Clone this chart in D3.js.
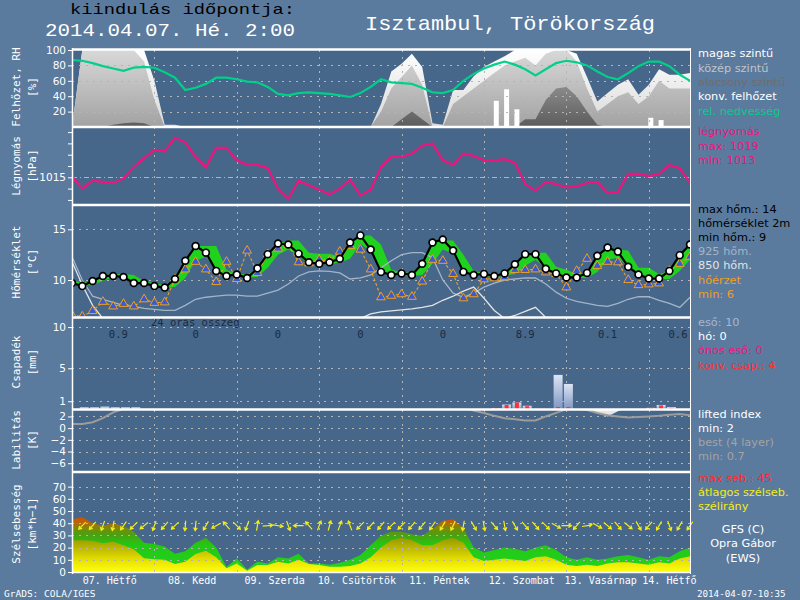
<!DOCTYPE html>
<html><head><meta charset="utf-8">
<script src="https://cdn.jsdelivr.net/npm/d3@7/dist/d3.min.js"></script>
<style>
html,body{margin:0;padding:0;background:#5a7a9e;}
svg{display:block;}
</style></head><body>
<svg id="chart" width="800" height="600"></svg>
<script>
// ---------------- DATA ----------------
const hours = d3.range(0, 181, 3); // 3-hourly forecast steps, 0..180 h
const rh = [87,86,83,79,76,73,77,78,77,71, 64,48,51,56,64,64,62,59,58,52, 43,41,44,45,44,43,41,39,44,52, 62,58,57,56,51,45,44,48,60,69, 76,81,85,81,75,67,75,83,86,84, 80,72,65,62,70,79,85,85,79,68, 60];
const cloudHigh = [0,100,100,100,100,100,100,100,60,3, 3,0,0,0,0,0,0,0,0,0, 0,0,0,0,0,0,0,0,0,0, 30,72,82,95,78,5,3,48,48,66, 78,85,92,100,100,100,100,100,100,95, 65,33,44,55,62,42,55,75,68,68, 70];
const cloudMid = [0,100,100,100,100,100,100,85,35,0, 0,0,0,0,0,0,0,0,0,0, 0,0,0,0,0,0,0,0,0,0, 20,50,65,80,55,0,0,30,40,50, 60,70,80,85,90,80,95,100,100,85, 50,20,30,40,45,30,40,60,50,50, 50];
const cloudLow = [0,0,0,0,3,5,6,5,0,0, 0,0,0,0,0,0,0,0,0,0, 0,0,0,0,0,0,0,0,0,0, 0,0,10,20,10,0,0,0,0,0, 0,0,0,0,10,10,35,50,52,40, 20,3,0,0,0,0,0,0,0,0, 0];
const cloudConv = [0,0,0,0,0,0,0,0,0,0, 0,0,0,0,0,0,0,0,0,0, 0,0,0,0,0,0,0,0,0,0, 0,0,0,0,0,0,0,0,0,0, 0,34,49,23,0,0,0,0,0,0, 0,0,0,0,0,0,12,9,0,0, 0];
const pressure = [1015.1,1014.0,1014.7,1014.6,1014.5,1014.9,1015.9,1016.7,1017.4,1017.3, 1018.5,1018.1,1016.8,1015.9,1017.6,1017.6,1016.5,1016.1,1016.1,1015.8, 1014.0,1013.1,1014.7,1014.3,1013.9,1013.5,1014.0,1014.8,1013.4,1013.9, 1015.9,1016.8,1016.8,1017.1,1017.8,1018.0,1016.5,1016.1,1017.1,1016.9, 1016.5,1016.5,1016.6,1016.3,1014.4,1013.8,1014.6,1014.4,1014.1,1014.2, 1014.5,1014.6,1013.6,1013.7,1015.3,1015.3,1015.1,1015.3,1016.1,1015.8, 1014.5];
const temp2m = [9.7,9.4,9.9,10.4,10.4,10.3,9.7,9.7,9.4,9.25, 10.1,11.9,13.35,12.7,10.9,10.4,10.55,10.2,11.15,12.55, 13.6,13.5,12.6,11.75,11.6,11.75,12.1,13.7,14.4,13.0, 10.8,10.5,10.65,10.5,11.6,13.7,14.0,12.9,10.8,10.5, 10.6,10.4,10.65,11.55,12.55,12.55,11.1,10.65,10.25,10.25, 10.7,12.4,13.2,12.8,11.3,10.55,10.15,10.15,10.9,12.45, 13.5];
const tempMaxBand = [9.9,9.8,9.9,10.5,10.6,10.6,10.5,9.9,9.7,9.5, 10.1,11.9,13.35,13.35,13.35,11.0,10.6,10.55,11.15,12.55, 13.6,13.9,13.9,12.7,12.6,12.6,12.3,13.7,14.4,14.4, 13.5,11.0,10.8,10.7,11.6,13.7,13.9,13.9,12.5,10.9, 10.7,10.6,10.7,11.55,12.55,12.7,12.7,11.3,11.0,10.6, 10.7,12.4,13.2,13.0,12.9,11.2,11.2,10.6,10.9,12.45, 13.6];
const tempMinBand = [9.5,9.4,9.5,9.9,10.3,10.3,9.8,9.7,9.4,9.2, 9.3,10.2,11.9,12.3,11.0,10.4,10.4,10.2,10.3,11.2, 12.5,13.0,12.4,11.6,11.6,11.6,11.7,12.1,13.6,12.8, 11.0,10.5,10.4,10.4,10.5,11.6,13.0,12.6,10.8,10.5, 10.4,10.3,10.4,10.6,11.4,12.0,11.1,10.6,10.2,10.2, 10.2,10.8,12.0,12.2,11.3,10.5,10.1,10.1,10.1,10.9, 12.0];
const feelsLike = [6.55,6.4,6.95,7.85,7.4,7.65,7.4,8.1,7.75,7.8, 10.07,11.05,11.8,11.05,9.8,11.8,10.1,12.9,10.7,12.55, 13.1,13.45,11.75,11.65,12.0,11.9,12.8,13.35,13.0,11.05, 8.3,8.45,8.6,8.35,9.85,12.0,11.9,10.6,8.2,8.6, 10.07,10.17,10.27,11.0,11.0,11.05,10.75,10.6,9.28,10.9, 12.1,11.4,11.8,11.75,10.0,9.5,9.57,9.67,10.9,11.6, 12.3];
const temp925 = [12.3,10.0,8.4,8.1,7.8,7.5,7.4,7.2,7.1,7.0, 7.0,7.5,8.1,8.3,8.4,8.5,8.5,8.4,8.4,8.7, 9.0,9.6,10.4,10.8,10.9,10.85,10.7,10.1,10.2,10.5, 11.2,11.9,12.5,12.7,12.7,12.2,10.0,8.7,8.3,8.7, 9.3,9.7,10.0,10.1,10.2,10.2,9.6,8.8,8.2,7.9, 7.7,7.5,7.4,7.7,8.1,8.35,8.35,8.0,7.7,7.3, 8.3];
const temp850 = [11.8,9.5,7.5,6.2,5.5,5.0,5.0,5.0,5.0,5.0, 5.0,5.0,5.0,5.0,5.0,5.0,5.0,5.0,5.0,5.0, 5.0,5.0,5.0,5.0,5.0,5.0,5.0,5.0,6.2,6.65, 6.85,6.95,7.05,7.15,7.3,7.5,8.0,8.4,8.9,9.3, 8.2,7.0,6.2,6.5,6.9,7.3,6.3,5.5,5.0,5.0, 5.0,5.0,5.0,5.0,5.0,5.0,5.0,5.0,5.0,5.0, 5.0];
const precipTotal = [0,0.27,0.27,0.35,0.27,0.27,0.27,0,0,0, 0,0,0,0,0,0,0,0,0,0, 0,0,0,0,0,0,0,0,0,0, 0,0,0,0,0,0,0,0,0,0, 0,0.15,0.6,0.85,0.45,0,0,4.2,3.1,0, 0,0,0,0,0,0,0.2,0.55,0.3,0, 0];
const precipConv = [0,0,0,0,0,0,0,0,0,0, 0,0,0,0,0,0,0,0,0,0, 0,0,0,0,0,0,0,0,0,0, 0,0,0,0,0,0,0,0,0,0, 0,0.15,0.55,0.85,0.4,0,0,0.3,0.3,0, 0,0,0,0,0,0,0.2,0.5,0.2,0, 0];
const dailySumText = ["0.9","0","0","0","0","8.9","0.1","0.6"];
const dailySumHours = [13.5, 36, 60, 84, 108, 132, 156, 176.5];
const liBest = [0.7,0.7,1.0,1.7,2.7,3.3,4,4.5,5,5, 5,5,5,5,5,5,5,5,5,5, 5,5,5,5,5,5,5,5,5,5, 5,5,5,5,5,5,5,4,3.5,3.0, 2.6,2.1,1.7,1.5,1.3,1.3,2.0,2.6,3.2,3.3, 3.1,2.6,2.2,2.0,1.8,1.9,2.0,2.1,2.3,2.4, 2.2];
const liSurface = [5,5,5,5,5,5,5,5,5,5, 5,5,5,5,5,5,5,5,5,5, 5,5,5,5,5,5,5,5,5,5, 5,5,5,5,5,5,5,5,5,5, 5,5,5,5,5,5,5,5,5,4, 3.2,2.6,2.0,2.9,3.5,5,5,5,5,5, 5];
const windMax = [43,45,40,38,40,37.7,33,24,23,21, 15,17,24,28,20,4,11,2,8.5,7, 12,11,15,7,7,6,7.6,10,14,22, 30,33,33,31,30,35,42,43,36,20, 16,18,20,19,17,20,22,18,12,10, 12,10,11,13,14,12,10,13,12,17, 20];
const windAvg = [26,26,25.6,23.5,24.8,22,18.6,11.2,10.4,10, 6.6,8.5,14.8,17.5,12,3,7,1,5.7,5.7, 8.5,7,10,6.6,5.7,4.3,4.3,5,7,12, 20,26,28,26,22,22,26,28,24,12, 9,10,11,10,9,12,13,10,6,5, 6,5,7,8,8,7,6,8,7,11, 13];
const windDir = [null,45,40,20,10,35,45,50,20,40, 45,5,5,30,60,140,315,20,190,265, 280,340,90,140,200,195,200,160,45,40, 40,45,45,40,40,35,30,25,10,330, 350,320,350,330,320,320,315,300,270,40, 260,300,310,320,310,330,40,30,340,30, 35];
const dayLabels = ["07. Hétfő","08. Kedd","09. Szerda","10. Csütörtök","11. Péntek","12. Szombat","13. Vasárnap","14. Hétfő"];
const dayLabelHours = [11, 35, 59, 83, 107, 131, 154, 174];
const dayBoundaryHours = [24, 48, 72, 96, 120, 144, 168];
const cloudTicks = [20, 40, 60, 80, 100];
const pressureTicks = [1013, 1014, 1015, 1016, 1017, 1018, 1019];
const tempTicks = [10, 15];
const precipTicks = [1, 5, 10];
const liTicks = [2, 0, -2, -4, -6];
const windTicks = [0, 10, 20, 30, 40, 50, 60, 70];

// ---------------- DRAW ----------------
const SANS = "'DejaVu Sans', sans-serif";
const MONO = "'DejaVu Sans Mono', monospace";
const SERIF = "'Liberation Mono', 'Courier New', monospace";
const svg = d3.select("#chart");
const defs = svg.append("defs");
const X0 = 72, X1 = 690;
const x = d3.scaleLinear().domain([0, 180]).range([X0, X1]);

const yCloud = d3.scaleLinear().domain([0, 100]).range([127, 50]);
const yPres = d3.scaleLinear().domain([1012.55, 1019.45]).range([205, 127]);
const yTemp = d3.scaleLinear().domain([6.35, 17.4]).range([317, 205]);
const yPrec = d3.scaleLinear().domain([0, 11.1]).range([409.5, 318]);
const yLI = d3.scaleLinear().domain([-7.5, 3.1]).range([472, 410]);
const yWind = d3.scaleLinear().domain([0, 82]).range([572, 472]);

svg.append("rect").attr("width", 800).attr("height", 600).attr("fill", "#5a7a9e");
svg.append("rect").attr("x", X0).attr("y", 49).attr("width", X1 - X0).attr("height", 524).attr("fill", "#46668a");

function clip(id, top, bottom) {
  defs.append("clipPath").attr("id", id).append("rect")
    .attr("x", X0).attr("y", top).attr("width", X1 - X0).attr("height", bottom - top);
  return svg.append("g").attr("clip-path", `url(#${id})`);
}
function vgrad(id, stops) {
  const g = defs.append("linearGradient").attr("id", id).attr("x1", 0).attr("y1", 0).attr("x2", 0).attr("y2", 1);
  stops.forEach(s => g.append("stop").attr("offset", s[0]).attr("stop-color", s[1]));
}
function ugrad(id, y1, y2, stops) {
  const g = defs.append("linearGradient").attr("id", id).attr("gradientUnits", "userSpaceOnUse")
    .attr("x1", 0).attr("y1", y1).attr("x2", 0).attr("y2", y2);
  stops.forEach(s => g.append("stop").attr("offset", s[0]).attr("stop-color", s[1]));
}
vgrad("gHigh", [[0, "#ffffff"], [1, "#d8d8d8"]]);
vgrad("gMid", [[0, "#d8d8d8"], [1, "#a2a2a2"]]);
vgrad("gLow", [[0, "#8a8a8a"], [1, "#5c5c5c"]]);
vgrad("gBar", [[0, "#dde4f4"], [1, "#7e96c2"]]);
ugrad("gWindMax", 572, 472, [[0, "#22d422"], [0.27, "#22c814"], [0.37, "#4aa012"], [0.44, "#7a8a08"], [0.49, "#b86808"], [0.56, "#d04a00"]]);
ugrad("gWindAvg", 572, 472, [[0, "#ffff10"], [0.12, "#e6e000"], [0.25, "#b8b400"], [0.34, "#989a00"]]);

const gridStyle = sel => sel.attr("stroke", "#b4b4b4").attr("stroke-width", 1).attr("stroke-dasharray", "2,5");
function hgrid(g, scale, vals, dash) {
  vals.forEach(v => g.append("line").attr("x1", X0).attr("x2", X1)
    .attr("y1", Math.round(scale(v)) + 0.5).attr("y2", Math.round(scale(v)) + 0.5)
    .call(gridStyle).attr("stroke-dasharray", dash || "2,5"));
}
function vgrid(g, top, bottom) {
  dayBoundaryHours.forEach(h => g.append("line").attr("x1", Math.round(x(h)) + 0.5).attr("x2", Math.round(x(h)) + 0.5)
    .attr("y1", top).attr("y2", bottom).call(gridStyle));
}

// ---- Cloud / RH panel ----
const gC = clip("cpCloud", 50, 127);
const cloudArea = vals => d3.area().x((d, i) => x(hours[i])).y0(yCloud(0)).y1(d => yCloud(d))(vals);
gC.append("path").attr("d", cloudArea(cloudHigh)).attr("fill", "url(#gHigh)");
gC.append("path").attr("d", cloudArea(cloudMid)).attr("fill", "url(#gMid)");
gC.append("path").attr("d", cloudArea(cloudLow)).attr("fill", "url(#gLow)");
gC.selectAll("rect.conv").data(cloudConv.map((v, i) => ({v, h: hours[i]})).filter(d => d.v > 0))
  .enter().append("rect").attr("x", d => x(d.h) - 0.5).attr("width", 5)
  .attr("y", d => yCloud(d.v)).attr("height", d => yCloud(0) - yCloud(d.v)).attr("fill", "#ffffff");
hgrid(gC, yCloud, [20, 40, 60, 80]);
vgrid(gC, 50, 127);
gC.append("path").attr("d", d3.line().x((d, i) => x(hours[i])).y(d => yCloud(d))(rh))
  .attr("fill", "none").attr("stroke", "#00d08a").attr("stroke-width", 2.2);

// ---- Pressure panel ----
const gP = clip("cpPres", 127, 205);
hgrid(gP, yPres, [1015], "5,3,1,3");
vgrid(gP, 127, 205);
gP.append("path").attr("d", d3.line().x((d, i) => x(hours[i])).y(d => yPres(d))(pressure))
  .attr("fill", "none").attr("stroke", "#f0147e").attr("stroke-width", 2.2);

// ---- Temperature panel ----
const gT = clip("cpTemp", 205, 317);
gT.append("path").attr("d", d3.area().x((d, i) => x(hours[i])).y0((d, i) => yTemp(tempMinBand[i])).y1(d => yTemp(d))(tempMaxBand))
  .attr("fill", "#1ed21e");
hgrid(gT, yTemp, tempTicks);
vgrid(gT, 205, 317);
const tline = d3.line().x((d, i) => x(hours[i])).y(d => yTemp(d));
gT.append("path").attr("d", tline(temp925)).attr("fill", "none").attr("stroke", "#a4b4c8").attr("stroke-width", 1.3);
gT.append("path").attr("d", tline(temp850)).attr("fill", "none").attr("stroke", "#e4e4e4").attr("stroke-width", 1.3);
gT.append("path").attr("d", tline(feelsLike)).attr("fill", "none").attr("stroke", "#f0a020").attr("stroke-width", 1.1).attr("stroke-dasharray", "3,2");
gT.selectAll("path.tri").data(feelsLike).enter().append("path")
  .attr("d", d3.symbol().type(d3.symbolTriangle).size(34))
  .attr("transform", (d, i) => `translate(${x(hours[i])},${yTemp(d)})`)
  .attr("fill", "#3a5ad2").attr("stroke", "#f0a020").attr("stroke-width", 1);
gT.append("path").attr("d", tline(temp2m)).attr("fill", "none").attr("stroke", "#000").attr("stroke-width", 2.2);
gT.selectAll("circle.t").data(temp2m).enter().append("circle")
  .attr("cx", (d, i) => x(hours[i])).attr("cy", d => yTemp(d)).attr("r", 3.4)
  .attr("fill", "#fff").attr("stroke", "#000").attr("stroke-width", 1.7);

// ---- Precipitation panel ----
const gR = clip("cpPrec", 318, 409.5);
hgrid(gR, yPrec, precipTicks);
vgrid(gR, 318, 410);
const pdata = precipTotal.map((v, i) => ({v, c: precipConv[i], h: hours[i]}));
gR.selectAll("rect.p").data(pdata.filter(d => d.v > 0)).enter().append("rect")
  .attr("x", d => x(d.h) - 2.5).attr("width", 9)
  .attr("y", d => yPrec(d.v)).attr("height", d => yPrec(0) - yPrec(d.v)).attr("fill", "url(#gBar)");
gR.selectAll("rect.c").data(pdata.filter(d => d.c > 0)).enter().append("rect")
  .attr("x", d => x(d.h)).attr("width", 4)
  .attr("y", d => yPrec(d.c)).attr("height", d => yPrec(0) - yPrec(d.c)).attr("fill", "#ff3030");
svg.append("text").attr("x", 151).attr("y", 326).text("24 órás összeg")
  .attr("font-family", MONO).attr("font-size", 10.5).attr("fill", "#1c2a3c");
svg.selectAll("text.sum").data(dailySumText).enter().append("text")
  .attr("x", (d, i) => x(dailySumHours[i])).attr("y", 337.5).attr("text-anchor", "middle")
  .text(d => d).attr("font-family", MONO).attr("font-size", 10.5).attr("fill", "#1c2a3c");

// ---- Lifted index panel ----
const gL = clip("cpLI", 410, 472);
hgrid(gL, yLI, liTicks);
vgrid(gL, 410, 472);
gL.append("path").attr("d", d3.area().x((d, i) => x(hours[i])).y0(yLI(3.1)).y1(d => yLI(d))(liSurface))
  .attr("fill", "#e6e6e6");
gL.append("path").attr("d", d3.line().x((d, i) => x(hours[i])).y(d => yLI(d))(liBest))
  .attr("fill", "none").attr("stroke", "#9c9c9c").attr("stroke-width", 2);

// ---- Wind panel ----
const gW = clip("cpWind", 472, 572);
gW.append("path").attr("d", d3.area().x((d, i) => x(hours[i])).y0(yWind(0)).y1(d => yWind(d))(windMax)).attr("fill", "url(#gWindMax)");
gW.append("path").attr("d", d3.area().x((d, i) => x(hours[i])).y0(yWind(0)).y1(d => yWind(d))(windAvg)).attr("fill", "url(#gWindAvg)");
hgrid(gW, yWind, windTicks.filter(v => v > 0));
vgrid(gW, 472, 572);
const arrowLevel = 38, L = 10, HL = 3.5;
windDir.forEach((dir, i) => {
  if (dir === null) return;
  const r = dir * Math.PI / 180;
  const dx = -Math.sin(r), dy = Math.cos(r);
  const cx = x(hours[i]), cy = yWind(arrowLevel);
  const hx = cx + dx * L / 2, hy = cy + dy * L / 2;
  const tx = cx - dx * L / 2, ty = cy - dy * L / 2;
  const a = Math.atan2(dy, dx);
  const p = `M${tx},${ty}L${hx},${hy}M${hx - HL * Math.cos(a - 0.55)},${hy - HL * Math.sin(a - 0.55)}L${hx},${hy}L${hx - HL * Math.cos(a + 0.55)},${hy - HL * Math.sin(a + 0.55)}`;
  svg.append("path").attr("d", p).attr("fill", "none").attr("stroke", "#f4ec20").attr("stroke-width", 1.2);
});

// ---- Frame lines ----
[49.5, 127, 205, 317.5, 409.5, 472].forEach(y => svg.append("line").attr("x1", X0).attr("x2", X1 + 1).attr("y1", y).attr("y2", y)
  .attr("stroke", "#fff").attr("stroke-width", 2.5));
svg.append("line").attr("x1", X0).attr("x2", X1 + 1).attr("y1", 572.5).attr("y2", 572.5).attr("stroke", "#fff").attr("stroke-width", 1.5);
svg.append("line").attr("x1", X0 + 0.5).attr("x2", X0 + 0.5).attr("y1", 48).attr("y2", 574).attr("stroke", "#fff").attr("stroke-width", 1.5);
svg.append("line").attr("x1", X1 + 0.5).attr("x2", X1 + 0.5).attr("y1", 48).attr("y2", 574).attr("stroke", "#fff").attr("stroke-width", 1);

// ---- Axes ----
function yAxis(scale, vals, fmt) {
  const ax = d3.axisLeft(scale).tickValues(vals).tickSize(4).tickPadding(2);
  if (fmt) ax.tickFormat(fmt);
  const g = svg.append("g").attr("transform", `translate(${X0},0)`).call(ax);
  g.select(".domain").remove();
  g.selectAll("line").attr("stroke", "#fff");
  g.selectAll("text").attr("fill", "#fff").attr("font-family", SANS).attr("font-size", 10.5);
}
yAxis(yCloud, cloudTicks);
yAxis(yPres, pressureTicks, d => d === 1015 ? "1015" : "");
yAxis(yTemp, tempTicks);
yAxis(yPrec, precipTicks);
yAxis(yLI, liTicks);
yAxis(yWind, windTicks);

// x axis day labels
svg.selectAll("text.day").data(dayLabels).enter().append("text")
  .attr("x", (d, i) => x(dayLabelHours[i])).attr("y", 584).attr("text-anchor", "middle")
  .text(d => d).attr("fill", "#fff").attr("font-family", MONO).attr("font-size", 10);

// rotated panel titles
const titles = [["Felhőzet, RH", "[%]", 87], ["Légnyomás", "[hPa]", 166], ["Hőmérséklet", "[°C]", 262],
  ["Csapadék", "[mm]", 362], ["Labilitás", "[K]", 440], ["Szélsebesség", "[km*h−1]", 524]];
titles.forEach(t => {
  svg.append("text").attr("transform", `translate(20,${t[2]}) rotate(-90)`).attr("text-anchor", "middle")
    .text(t[0]).attr("fill", "#fff").attr("font-family", MONO).attr("font-size", 11);
  svg.append("text").attr("transform", `translate(36,${t[2]}) rotate(-90)`).attr("text-anchor", "middle")
    .text(t[1]).attr("fill", "#fff").attr("font-family", MONO).attr("font-size", 11);
});

// ---- Header ----
svg.append("text").attr("x", 70).attr("y", 14).text("kiindulás időpontja:")
  .attr("fill", "#000").attr("font-family", SERIF).attr("font-size", 15)
  .attr("textLength", 225).attr("lengthAdjust", "spacingAndGlyphs");
svg.append("text").attr("x", 45).attr("y", 36).text("2014.04.07. Hé. 2:00")
  .attr("fill", "#fff").attr("font-family", SERIF).attr("font-size", 19)
  .attr("textLength", 250).attr("lengthAdjust", "spacingAndGlyphs");
svg.append("text").attr("x", 365).attr("y", 30).text("Isztambul, Törökország")
  .attr("fill", "#fff").attr("font-family", SERIF).attr("font-size", 21)
  .attr("textLength", 290).attr("lengthAdjust", "spacingAndGlyphs");

// ---- Legend ----
const legend = [
  ["magas szintű", "#ffffff", 57], ["közép szintű", "#c4c4c4", 71.5], ["alacsony szintű", "#6e6e6e", 86],
  ["konv. felhőzet", "#ffffff", 100], ["rel. nedvesség", "#00d08a", 114.5],
  ["légnyomás", "#f0147e", 135], ["max: 1019", "#f0147e", 149.5], ["min: 1013", "#f0147e", 163.5],
  ["max hőm.: 14", "#000000", 213], ["hőmérséklet 2m", "#000000", 227], ["min hőm.: 9", "#000000", 241],
  ["925 hőm.", "#a4b4c8", 255], ["850 hőm.", "#e4e4e4", 269], ["hőérzet", "#f0a020", 283.5], ["min: 6", "#f0a020", 297.5],
  ["eső: 10", "#a8b6cc", 326], ["hó: 0", "#ffffff", 340], ["ónos eső: 0", "#f0147e", 354], ["konv. csap.: 4", "#ff3030", 368.5],
  ["lifted index", "#ffffff", 417.5], ["min: 2", "#ffffff", 431.5], ["best (4 layer)", "#a4a4a4", 445.5], ["min: 0.7", "#a4a4a4", 460],
  ["max seb.: 45", "#ff2a2a", 482], ["átlagos szélseb.", "#f4ec20", 496], ["szélirány", "#f4ec20", 510]
];
legend.forEach(l => svg.append("text").attr("x", 698).attr("y", l[2]).text(l[0])
  .attr("fill", l[1]).attr("font-family", SANS).attr("font-size", 11.3));
[["GFS (C)", 533], ["Opra Gábor", 547], ["(EWS)", 561.5]].forEach(l => svg.append("text")
  .attr("x", 743).attr("y", l[1]).attr("text-anchor", "middle").text(l[0])
  .attr("fill", "#fff").attr("font-family", SANS).attr("font-size", 11.3));
svg.append("text").attr("x", 4).attr("y", 597).text("GrADS: COLA/IGES")
  .attr("fill", "#fff").attr("font-family", MONO).attr("font-size", 9.5);
svg.append("text").attr("x", 697).attr("y", 597).text("2014-04-07-10:35")
  .attr("fill", "#fff").attr("font-family", MONO).attr("font-size", 9.2);
</script></body></html>
